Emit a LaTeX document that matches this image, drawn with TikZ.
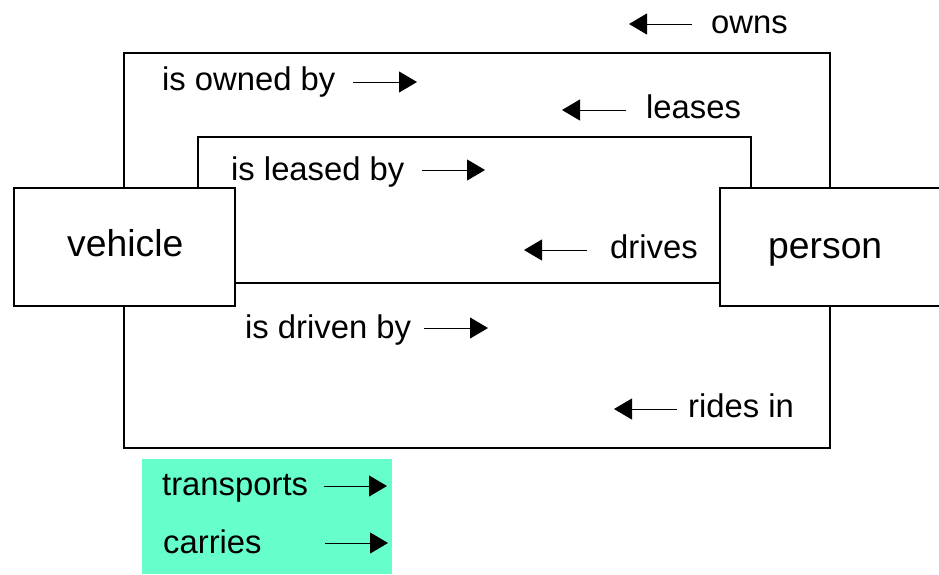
\documentclass[tikz,border=0pt]{standalone}
\usepackage{fontspec}
\setmainfont{Liberation Sans}
\usetikzlibrary{arrows.meta}
\begin{document}
\begin{tikzpicture}[x=1pt,y=-1pt,
  lbl/.style={anchor=base west,inner sep=0pt,font=\fontsize{32.8}{39}\selectfont},
  ent/.style={draw=black,line width=1.5pt,fill=white},
  enttext/.style={anchor=base west,inner sep=0pt,font=\fontsize{37.3}{44}\selectfont},
  rel/.style={draw=black,line width=2pt},
  arr/.style={line width=1pt,-{Triangle[length=18pt,width=21pt]}}]
\useasboundingbox (0,0) rectangle (939,574);
\clip (0,0) rectangle (939,574);
% relationship loops
\draw[rel] (124,53) rectangle (830,448);
\draw[rel] (198,137) rectangle (751,283);
% entity boxes
\draw[ent] (14,188) rectangle (235,306);
\draw[ent] (720,188) rectangle (960,306);
\node[enttext] (vehicle) at (67,256) {vehicle};
\node[enttext] (person) at (768,258) {person};
% green legend
\fill[fill={rgb,255:red,102;green,255;blue,204}] (142,459) rectangle (392,574);
% labels
\node[lbl] (owns) at (711,33) {owns};
\node[lbl] (ownedby) at (162,90) {is owned by};
\node[lbl] (leases) at (646,118) {leases};
\node[lbl] (leasedby) at (231,180) {is leased by};
\node[lbl] (drives) at (610,258) {drives};
\node[lbl] (drivenby) at (245,338) {is driven by};
\node[lbl] (ridesin) at (688,417) {rides in};
\node[lbl] (transports) at (162,495) {transports};
\node[lbl] (carries) at (163,553) {carries};
% arrows
\draw[arr] (692,24) -- (629,24);
\draw[arr] (353,82) -- (417,82);
\draw[arr] (626,110) -- (562,110);
\draw[arr] (422,170) -- (485,170);
\draw[arr] (587,250) -- (524,250);
\draw[arr] (424,328) -- (488,328);
\draw[arr] (677,409) -- (614,409);
\draw[arr] (324,486) -- (387,486);
\draw[arr] (325,543) -- (388,543);
\end{tikzpicture}
\end{document}
